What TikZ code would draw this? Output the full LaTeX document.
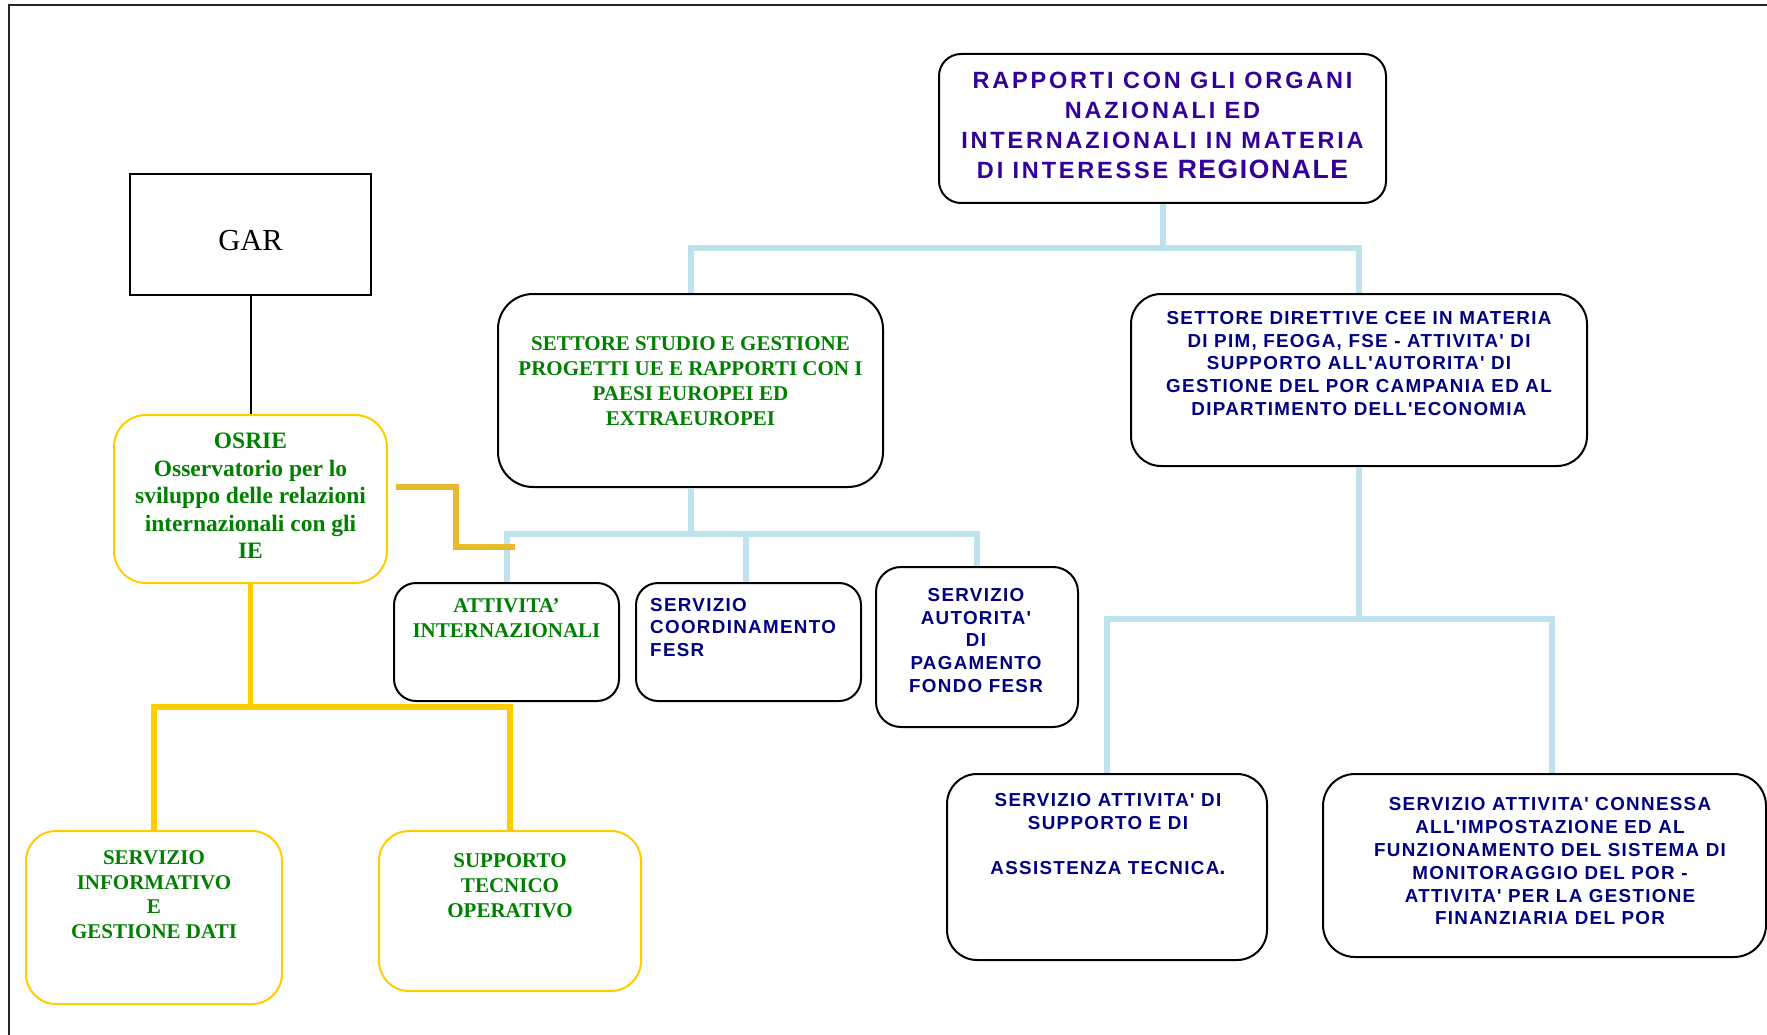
\documentclass[tikz,border=0pt]{standalone}
\usepackage{fontspec}
\setmainfont{Liberation Serif}
\newfontfamily\navyfont[LetterSpace=7]{Liberation Sans}
\newfontfamily\topfont[LetterSpace=12]{Liberation Sans}
\usetikzlibrary{calc}
\definecolor{lblue}{RGB}{190,227,237}
\definecolor{gold}{RGB}{255,204,0}
\definecolor{dgold}{RGB}{230,186,42}
\definecolor{tgreen}{RGB}{0,128,0}
\definecolor{tnavy}{RGB}{0,0,128}
\definecolor{tpurple}{RGB}{51,0,153}
\begin{document}
\begin{tikzpicture}[x=1pt,y=-1pt,
  rbox/.style={draw=black, line width=2pt, fill=white, inner sep=0pt, rounded corners=#1},
  rbox/.default=25pt,
  gbox/.style={draw=gold, line width=2pt, fill=white, inner sep=0pt, rounded corners=#1},
  gbox/.default=30pt,
  bl/.style={draw=lblue, line width=6pt},
  gl/.style={draw=gold, line width=5.5pt},
  dgl/.style={draw=dgold, line width=5.5pt},
  greentxt/.style={text=tgreen, align=center, inner sep=0pt},
  navytxt/.style={text=tnavy, inner sep=0pt, font={\navyfont\bfseries\fontsize{18.8}{22.8}\selectfont}},
]
\useasboundingbox (0,0) rectangle (1767,1035);
% outer frame
\draw[line width=2pt, draw=black!85] (9,1045) -- (9,5) -- (1780,5);

% junction coordinates
\coordinate (j1) at (1162.5,248);
\coordinate (j2) at (690.5,534);
\coordinate (j3) at (1359,619);
\coordinate (j4) at (250.5,707);
\coordinate (gEnd) at (515,547);

% boxes
\node[rbox=22pt, minimum width=447pt, minimum height=149pt] (top) at (1162.5,128.5) {};
\node[draw=black, line width=2pt, fill=white, inner sep=0pt, minimum width=241pt, minimum height=121pt] (gar) at (250.5,234.5) {};
\node[rbox=35pt, minimum width=385pt, minimum height=193pt] (studio) at (690.5,390.5) {};
\node[rbox=30pt, minimum width=456pt, minimum height=172pt] (dir) at (1359,380) {};
\node[gbox=32pt, minimum width=273pt, minimum height=168pt] (osrie) at (250.5,499) {};
\node[rbox=22pt, minimum width=225pt, minimum height=118pt] (att) at (506.5,642) {};
\node[rbox=22pt, minimum width=225pt, minimum height=118pt] (coord) at (748.5,642) {};
\node[rbox=25pt, minimum width=202pt, minimum height=160pt] (aut) at (977,647) {};
\node[rbox=30pt, minimum width=320pt, minimum height=186pt] (sup) at (1107,867) {};
\node[rbox=32pt, minimum width=443pt, minimum height=183pt] (conn) at (1544.5,865.5) {};
\node[gbox=30pt, minimum width=256pt, minimum height=173pt] (inf) at (154,917.5) {};
\node[gbox=30pt, minimum width=262pt, minimum height=160pt] (tec) at (510,911) {};

% connectors (blue)
\draw[bl] (top.south) -- (j1);
\draw[bl] (studio.north) |- (j1) -| (dir.north);
\draw[bl] (studio.south) -- (j2);
\draw[bl] (att.north) |- (j2) -| (aut.north);
\draw[bl] ($(coord.north)+(-2.5,0)$) -- ($(coord.north |- j2)+(-2.5,0)$);
\draw[bl] (dir.south) -- (j3);
\draw[bl] (sup.north) |- (j3) -| ($(conn.north)+(7.5,0)$);
% connectors (gold)
\draw[gl] (osrie.south) -- (j4);
\draw[gl] (inf.north) |- (j4) -| (tec.north);
\draw[dgl] ($(osrie.east)+(8,-12)$) -- ++(60,0) |- (gEnd);
% black
\draw[line width=2pt] (gar.south) -- (osrie.north);

% texts
\node[text=tpurple, align=center, inner sep=0pt, font={\topfont\bfseries\fontsize{23.5}{30}\selectfont}] (topT) at (1162.5,125)
  {RAPPORTI CON GLI ORGANI\\NAZIONALI ED\\INTERNAZIONALI IN MATERIA\\DI INTERESSE {\addfontfeature{LetterSpace=6}\fontsize{26.5}{30}\selectfont REGIONALE}};
\node[inner sep=0pt, font={\fontsize{30.5}{34}\selectfont}] (garT) at (250.5,241) {GAR};
\node[greentxt, font={\bfseries\fontsize{21}{24.8}\selectfont}] (studioT) at (690.5,381)
  {SETTORE STUDIO E GESTIONE\\PROGETTI UE E RAPPORTI CON I\\PAESI EUROPEI ED\\EXTRAEUROPEI};
\node[navytxt, align=center] (dirT) at (1359,363.5)
  {SETTORE DIRETTIVE CEE IN MATERIA\\DI PIM, FEOGA, FSE - ATTIVITA' DI\\SUPPORTO ALL'AUTORITA' DI\\GESTIONE DEL POR CAMPANIA ED AL\\DIPARTIMENTO DELL'ECONOMIA};
\node[greentxt, font={\bfseries\fontsize{23.5}{27.6}\selectfont}] (osrieT) at (250.5,496)
  {OSRIE\\Osservatorio per lo\\sviluppo delle relazioni\\internazionali con gli\\IE};
\node[greentxt, font={\bfseries\fontsize{21}{24.8}\selectfont}] (attT) at (506.5,618.5)
  {ATTIVITA’\\INTERNAZIONALI};
\node[navytxt, align=left, anchor=west] (coordT) at (650,627.5)
  {SERVIZIO\\COORDINAMENTO\\FESR};
\node[navytxt, align=center] (autT) at (976,640.5)
  {SERVIZIO\\AUTORITA'\\DI\\PAGAMENTO\\FONDO FESR};
\node[navytxt, align=center] (supT) at (1108,834)
  {SERVIZIO ATTIVITA' DI\\SUPPORTO E DI\\[22.8pt]ASSISTENZA TECNICA{\fontsize{22}{22}\selectfont.}};
\node[navytxt, align=center] (connT) at (1550,861.5)
  {SERVIZIO ATTIVITA' CONNESSA\\ALL'IMPOSTAZIONE ED AL\\FUNZIONAMENTO DEL SISTEMA DI\\MONITORAGGIO DEL POR -\\ATTIVITA' PER LA GESTIONE\\FINANZIARIA DEL POR};
\node[greentxt, font={\bfseries\fontsize{21}{24.5}\selectfont}] (infT) at (154,894.5)
  {SERVIZIO\\INFORMATIVO\\E\\GESTIONE DATI};
\node[greentxt, font={\bfseries\fontsize{21}{25}\selectfont}] (tecT) at (510,885.5)
  {SUPPORTO\\TECNICO\\OPERATIVO};
\end{tikzpicture}
\end{document}
